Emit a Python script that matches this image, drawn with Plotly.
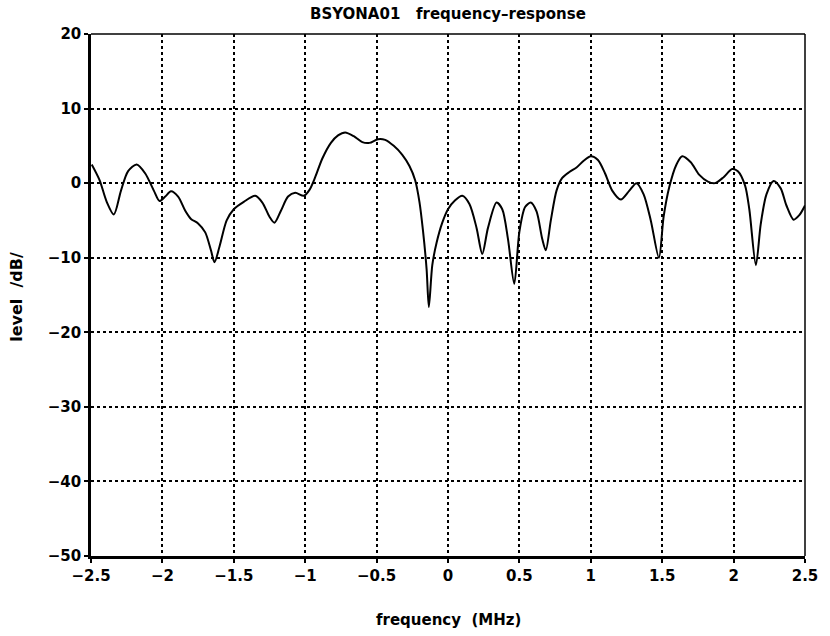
import plotly.graph_objects as go

# Measured frequency response of BSYONA01
freq_mhz = [
    -2.495, -2.44, -2.39, -2.34, -2.29, -2.24, -2.18, -2.12, -2.06, -2.02,
    -1.98, -1.94, -1.89, -1.84, -1.80, -1.75, -1.70, -1.66, -1.635, -1.60,
    -1.55, -1.50, -1.43, -1.35, -1.30, -1.25, -1.215, -1.17, -1.12, -1.07,
    -1.01, -0.97, -0.93, -0.88, -0.82, -0.77, -0.72, -0.66, -0.60, -0.55,
    -0.49, -0.44, -0.38, -0.32, -0.27, -0.23, -0.20, -0.175, -0.15, -0.134,
    -0.11, -0.08, -0.04, 0.0, 0.05, 0.10, 0.15, 0.20, 0.24, 0.28,
    0.34, 0.38, 0.42, 0.464, 0.50, 0.54, 0.58, 0.62, 0.66, 0.685,
    0.72, 0.76, 0.80, 0.85, 0.90, 0.95, 1.00, 1.05, 1.10, 1.15,
    1.21, 1.27, 1.32, 1.37, 1.42, 1.477, 1.51, 1.55, 1.60, 1.64,
    1.70, 1.76, 1.82, 1.87, 1.93, 1.99, 2.03, 2.08, 2.11, 2.156,
    2.19, 2.23, 2.28, 2.33, 2.37, 2.42, 2.46, 2.50,
]
level_db = [
    2.5, 0.4, -2.5, -4.2, -1.0, 1.6, 2.5, 1.3, -1.0, -2.4,
    -1.8, -1.1, -1.8, -3.7, -4.8, -5.4, -6.6, -9.0, -10.6, -8.5,
    -5.0, -3.5, -2.5, -1.7, -2.6, -4.5, -5.3, -3.7, -1.8, -1.3,
    -1.7, -0.9, 0.8, 3.3, 5.4, 6.4, 6.8, 6.3, 5.5, 5.4,
    5.9, 5.8, 5.0, 3.8, 2.3, 0.4, -2.5, -6.4, -11.5, -16.6,
    -11.0, -8.0, -5.3, -3.5, -2.3, -1.7, -2.8, -6.0, -9.5, -6.0,
    -2.6, -3.5, -7.5, -13.5, -6.5, -3.2, -2.6, -3.8, -7.5, -9.0,
    -5.0, -1.0, 0.7, 1.5, 2.1, 3.0, 3.6, 3.1, 1.3, -1.0,
    -2.2, -1.0, 0.0, -1.5, -5.0, -10.0, -4.5, -0.5, 2.5, 3.6,
    2.8, 1.1, 0.2, 0.0, 0.8, 1.9, 1.6, -0.3, -3.5, -11.0,
    -5.5, -1.5, 0.3, -0.7, -3.0, -4.9, -4.3, -3.0,
]

x_ticks = [-2.5, -2, -1.5, -1, -0.5, 0, 0.5, 1, 1.5, 2, 2.5]
x_tick_text = ["\u22122.5", "\u22122", "\u22121.5", "\u22121", "\u22120.5", "0",
               "0.5", "1", "1.5", "2", "2.5"]
y_ticks = [20, 10, 0, -10, -20, -30, -40, -50]
y_tick_text = ["20", "10", "0", "\u221210", "\u221220", "\u221230", "\u221240", "\u221250"]

FONT = "DejaVu Sans"

fig = go.Figure()
fig.add_trace(go.Scatter(
    x=freq_mhz, y=level_db, mode="lines",
    line=dict(color="black", width=2, shape="spline", smoothing=0.8),
    showlegend=False, hoverinfo="skip",
))

axis_common = dict(
    showgrid=True, gridcolor="black", gridwidth=1.6, griddash="3px,3px",
    zeroline=False, showline=True, linecolor="black", linewidth=2.5,
    ticks="outside", ticklen=4, tickwidth=2, tickcolor="black",
    tickfont=dict(family=FONT, size=15, color="black", weight="bold"),
)

fig.update_xaxes(range=[-2.5, 2.5], tickvals=x_ticks, ticktext=x_tick_text, **axis_common)
fig.update_yaxes(range=[-50, 20], tickvals=y_ticks, ticktext=y_tick_text, **axis_common)

# thinner frame on the top and right edges
fig.add_shape(type="line", xref="paper", yref="paper", x0=0, x1=1, y0=1, y1=1,
              line=dict(color="black", width=1.5))
fig.add_shape(type="line", xref="paper", yref="paper", x0=1, x1=1, y0=0, y1=1,
              line=dict(color="black", width=1.5))

fig.add_annotation(text="BSYONA01   frequency\u2013response", xref="paper", yref="paper",
                   x=0.5, y=1 + 20 / 522, xanchor="center", yanchor="middle", showarrow=False,
                   font=dict(family=FONT, size=15, color="black", weight="bold"))
fig.add_annotation(text="frequency  (MHz)", xref="paper", yref="paper",
                   x=0.5, y=-64 / 522, xanchor="center", yanchor="middle", showarrow=False,
                   font=dict(family=FONT, size=15, color="black", weight="bold"))
fig.add_annotation(text="level  /dB/", xref="paper", yref="paper", textangle=-90,
                   x=(15 - 91) / 722, y=(556 - 297) / 522, xanchor="center", yanchor="middle",
                   showarrow=False,
                   font=dict(family=FONT, size=16, color="black", weight="bold"))

fig.update_layout(
    width=830, height=636,
    margin=dict(l=91, r=17, t=34, b=80),
    paper_bgcolor="white", plot_bgcolor="white",
)

fig.write_html("out.html")
